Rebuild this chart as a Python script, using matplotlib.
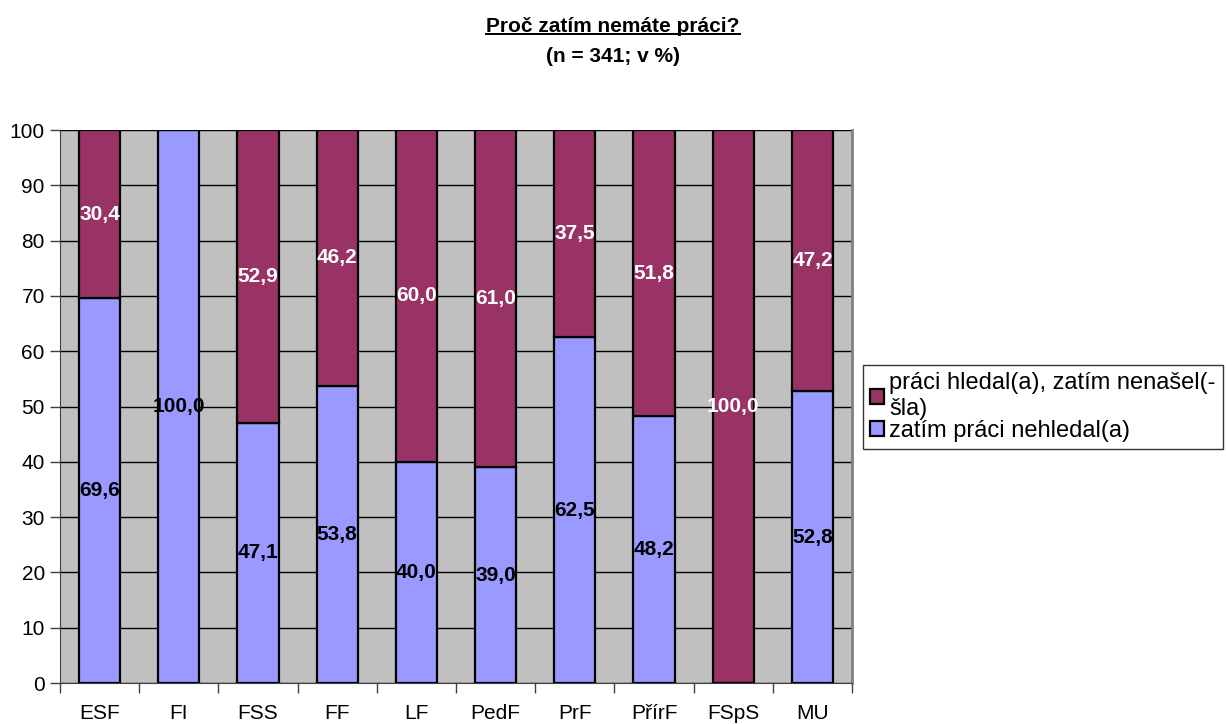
import numpy as np
import matplotlib.pyplot as plt
from matplotlib.lines import Line2D

plt.rcParams['font.family'] = ['Liberation Sans', 'DejaVu Sans']

categories = ['ESF', 'FI', 'FSS', 'FF', 'LF', 'PedF', 'PrF', 'PřírF', 'FSpS', 'MU']
nehledal = [69.6, 100.0, 47.1, 53.8, 40.0, 39.0, 62.5, 48.2, 0.0, 52.8]
hledal = [30.4, 0.0, 52.9, 46.2, 60.0, 61.0, 37.5, 51.8, 100.0, 47.2]
series_names = ['práci hledal(a), zatím nenašel(-\nšla)', 'zatím práci nehledal(a)']


def fmt(v):
    return '{:.1f}'.format(v).replace('.', ',')


def main():
    fig = plt.figure(figsize=(12.26, 7.24), dpi=100)
    ax = fig.add_axes([0.049, 0.0566, 0.646, 0.7638])
    ax.set_facecolor('#C0C0C0')

    x = np.arange(len(categories))
    b1 = ax.bar(x, nehledal, width=0.52, color='#9999FF', edgecolor='black',
                linewidth=1.6, zorder=3, label=series_names[1])
    b2 = ax.bar(x, hledal, width=0.52, bottom=nehledal, color='#993366',
                edgecolor='black', linewidth=1.6, zorder=3, label=series_names[0])

    # popisky hodnot
    for i in range(len(categories)):
        if nehledal[i] > 0:
            ax.text(x[i], nehledal[i] / 2, fmt(nehledal[i]), ha='center', va='center',
                    fontsize=15, fontweight='bold', color='black', zorder=4)
        if hledal[i] > 0:
            ax.text(x[i], nehledal[i] + hledal[i] / 2, fmt(hledal[i]), ha='center',
                    va='center', fontsize=15, fontweight='bold', color='white', zorder=4)

    ax.set_xlim(-0.5, len(categories) - 0.5)
    ax.set_ylim(0, 100)
    ax.set_yticks(np.arange(0, 101, 10))
    ax.yaxis.grid(True, color='black', linewidth=1.0, zorder=1)
    ax.set_axisbelow(True)

    ax.set_xticks(np.arange(-0.5, len(categories), 1.0))
    ax.set_xticklabels([])
    ax.set_xticks(x, minor=True)
    ax.set_xticklabels(categories, minor=True)
    ax.tick_params(axis='x', which='minor', length=0, pad=15, labelsize=15)
    ax.tick_params(axis='x', which='major', length=7, width=1, color='#404040')
    ax.tick_params(axis='y', length=7, width=1, color='#404040', labelsize=15, pad=4)

    ax.spines['top'].set_visible(False)
    ax.spines['right'].set_color('#808080')
    ax.spines['right'].set_linewidth(2)
    ax.spines['left'].set_color('#404040')
    ax.spines['bottom'].set_color('#404040')

    leg = fig.legend([b2, b1], series_names, loc='center left',
                     bbox_to_anchor=(0.704, 0.438), fontsize=17, frameon=True,
                     fancybox=False, edgecolor='black', handlelength=0.6,
                     handleheight=0.6, handletextpad=0.2, borderpad=0.3,
                     labelspacing=0.0, borderaxespad=0)
    leg.get_frame().set_linewidth(1.0)

    t1 = fig.text(0.5, 1 - 26 / 724, 'Proč zatím nemáte práci?', ha='center', va='center',
                  fontsize=15, fontweight='bold')
    fig.text(0.5, 1 - 57 / 724, '(n = 341; v %)', ha='center', va='center',
             fontsize=15, fontweight='bold')

    # podtrzeni naslova
    fig.canvas.draw()
    bb = t1.get_window_extent().transformed(fig.transFigure.inverted())
    fig.add_artist(Line2D([bb.x0, bb.x1], [bb.y0 + 0.002, bb.y0 + 0.002],
                          transform=fig.transFigure, color='black', linewidth=1.4))

    fig.savefig('out.png', dpi=100)


if __name__ == "__main__":
    main()
